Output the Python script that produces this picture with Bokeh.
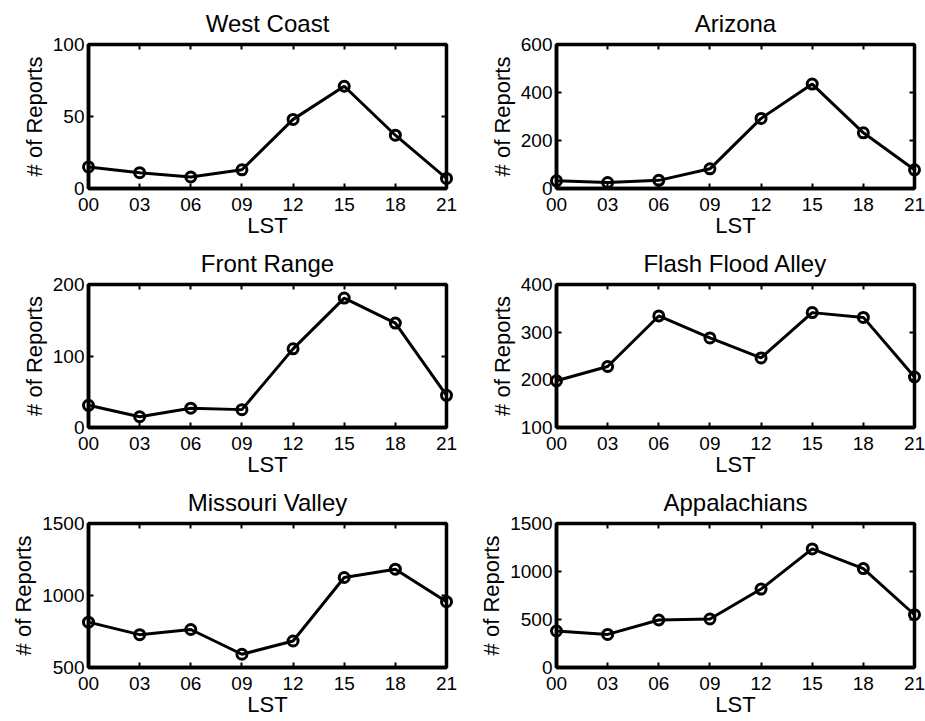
from bokeh.plotting import figure
from bokeh.layouts import column, row
from bokeh.models import FixedTicker, LinearAxis, Range1d
from bokeh.embed import file_html
from bokeh.resources import INLINE

# ---- data ----
hours = [0, 3, 6, 9, 12, 15, 18, 21]
hour_labels = ["00", "03", "06", "09", "12", "15", "18", "21"]

west_coast = [15, 11, 8, 13, 48, 71, 37, 7]
arizona = [32, 25, 34, 82, 292, 435, 232, 78]
front_range = [31, 15, 27, 25, 110, 181, 146, 45]
flash_flood_alley = [198, 228, 334, 288, 246, 341, 331, 206]
missouri_valley = [815, 728, 764, 592, 684, 1125, 1183, 957]
appalachians = [380, 345, 495, 505, 817, 1235, 1030, 550]

titles = ["West Coast", "Arizona", "Front Range", "Flash Flood Alley",
          "Missouri Valley", "Appalachians"]
series = [west_coast, arizona, front_range, flash_flood_alley,
          missouri_valley, appalachians]
y_ranges = [(0, 100), (0, 600), (0, 200), (100, 400), (500, 1500), (0, 1500)]
y_ticks = [[0, 50, 100], [0, 200, 400, 600], [0, 100, 200],
           [100, 200, 300, 400], [500, 1000, 1500], [0, 500, 1000, 1500]]

x_label = "LST"
y_label = "# of Reports"

FONT = "Liberation Sans"


def make_panel(idx, col, row_i):
    if col == 0:
        left, right = 88, 12
    else:
        left, right = 98, 11
    top = 44
    bottom = 51 if row_i < 2 else 54
    frame_h = 145 if row_i == 0 else 144
    w = left + 358 + right
    h = top + frame_h + bottom
    ymin, ymax = y_ranges[idx]
    p = figure(width=w, height=h,
               x_range=Range1d(0, 21), y_range=Range1d(ymin, ymax),
               output_backend="svg", toolbar_location=None,
               min_border_left=left, min_border_right=right,
               min_border_top=top, min_border_bottom=bottom,
               background_fill_color="white", border_fill_color="white")
    p.title.text = titles[idx]
    p.title.align = "center"
    p.title.text_font = FONT
    p.title.text_font_style = "normal"
    p.title.text_font_size = "24px"
    p.title.text_color = "black"
    p.title.standoff = 15

    p.xgrid.visible = False
    p.ygrid.visible = False
    p.outline_line_color = "black"
    p.outline_line_width = 3.5
    p.outline_line_alpha = 1.0

    xa = p.xaxis[0]
    xa.ticker = FixedTicker(ticks=hours)
    xa.major_label_overrides = {h_: lab for h_, lab in zip(hours, hour_labels)}
    xa.axis_label = x_label
    ya = p.yaxis[0]
    ya.ticker = FixedTicker(ticks=y_ticks[idx])
    ya.axis_label = y_label
    for ax in (xa, ya):
        ax.axis_line_color = "black"
        ax.axis_line_width = 3.5
        ax.major_tick_in = 5
        ax.major_tick_out = 0
        ax.major_tick_line_width = 2
        ax.major_tick_line_color = "black"
        ax.minor_tick_line_color = None
        ax.major_label_text_font = FONT
        ax.major_label_text_font_size = "19px"
        ax.major_label_text_color = "black"
        ax.axis_label_text_font = FONT
        ax.axis_label_text_font_size = "22px"
        ax.axis_label_text_font_style = "normal"
        ax.axis_label_text_color = "black"
    xa.major_label_standoff = 9
    xa.axis_label_standoff = -1
    ya.major_label_standoff = 4
    ya.axis_label_standoff = 3

    # box ticks on top and right (inward, no labels)
    top_ax = LinearAxis(ticker=FixedTicker(ticks=hours),
                        major_label_overrides={h_: "" for h_ in hours},
                        major_label_text_font_size="0px",
                        major_label_standoff=0,
                        axis_line_color=None, major_tick_in=5, major_tick_out=0,
                        major_tick_line_width=2, minor_tick_line_color=None)
    right_ax = LinearAxis(ticker=FixedTicker(ticks=y_ticks[idx]),
                          major_label_overrides={t: "" for t in y_ticks[idx]},
                          major_label_text_font_size="0px",
                          major_label_standoff=0,
                          axis_line_color=None, major_tick_in=5, major_tick_out=0,
                          major_tick_line_width=2, minor_tick_line_color=None)
    p.add_layout(top_ax, "above")
    p.add_layout(right_ax, "right")

    p.line(hours, series[idx], line_color="black", line_width=3)
    p.scatter(hours, series[idx], marker="circle", size=10,
              fill_color=None, line_color="black", line_width=3,
              level="overlay")
    return p


panels = []
for r in range(3):
    rr = []
    for c in range(2):
        rr.append(make_panel(r * 2 + c, c, r))
    panels.append(row(*rr, spacing=0))

p = column(*panels, spacing=0)

open("out.html", "w").write(file_html(p, INLINE))
